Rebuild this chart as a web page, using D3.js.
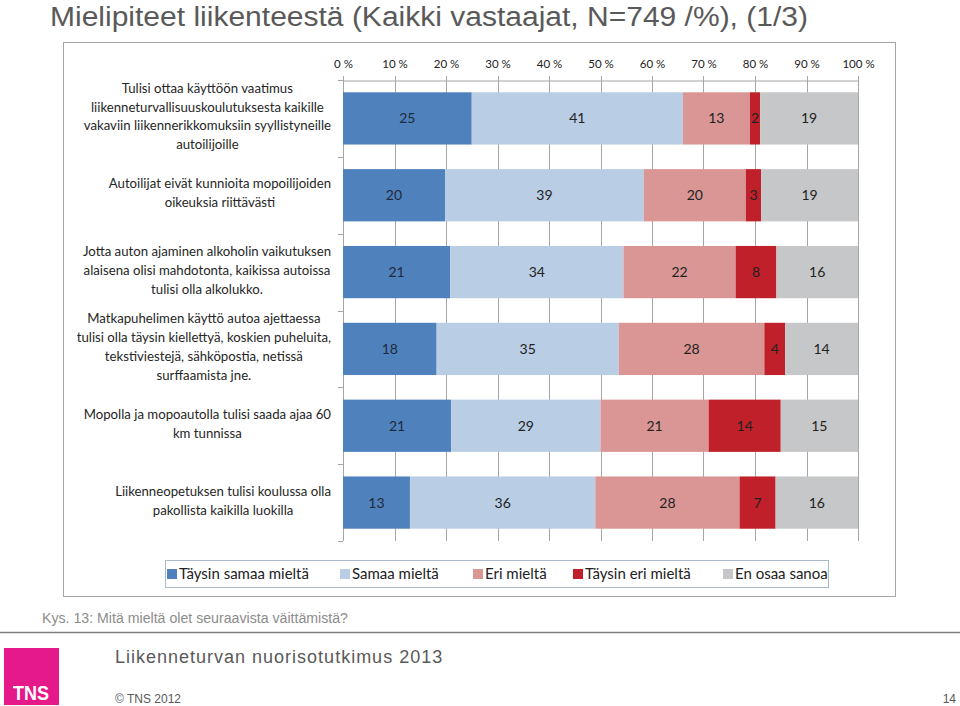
<!DOCTYPE html>
<html>
<head>
<meta charset="utf-8">
<script src="https://cdn.jsdelivr.net/npm/d3@7"></script>
<style>
  body { margin: 0; background: #fff; }
  svg { display: block; }
</style>
</head>
<body>
<div id="chart"></div>
<script>
const statements = [
  ["Tulisi ottaa käyttöön vaatimus", "liikenneturvallisuuskoulutuksesta  kaikille", "vakaviin liikennerikkomuksiin syyllistyneille", "autoilijoille"],
  ["Autoilijat eivät kunnioita mopoilijoiden", "oikeuksia riittävästi"],
  ["Jotta auton ajaminen alkoholin vaikutuksen", "alaisena olisi mahdotonta, kaikissa autoissa", "tulisi olla alkolukko."],
  ["Matkapuhelimen käyttö autoa ajettaessa", "tulisi olla täysin kiellettyä, koskien  puheluita,", "tekstiviestejä, sähköpostia,  netissä", "surffaamista jne."],
  ["Mopolla ja mopoautolla tulisi saada ajaa 60", "km tunnissa"],
  ["Liikenneopetuksen tulisi koulussa olla", "pakollista kaikilla luokilla"]
];
const answers = ["Täysin samaa mieltä", "Samaa mieltä", "Eri mieltä", "Täysin eri mieltä", "En osaa sanoa"];
const taysinSamaa = [25, 20, 21, 18, 21, 13];
const samaa = [41, 39, 34, 35, 29, 36];
const eri = [13, 20, 22, 28, 21, 28];
const taysinEri = [2, 3, 8, 4, 14, 7];
const enOsaa = [19, 19, 16, 14, 15, 16];
const tickValues = [0, 0.1, 0.2, 0.3, 0.4, 0.5, 0.6, 0.7, 0.8, 0.9, 1];

const colors = ["#4F81BD", "#B9CDE5", "#D99694", "#C0202A", "#C6C7C9"];
const series = [taysinSamaa, samaa, eri, taysinEri, enOsaa];

const rows = statements.map((s, i) => {
  const r = { id: i, lines: s };
  answers.forEach((a, j) => (r[a] = series[j][i]));
  return r;
});

const W = 960, H = 706;
const svg = d3.select("#chart").append("svg").attr("width", W).attr("height", H);

const labelFont = "Lato, 'Open Sans', sans-serif";
const narrow = "'Liberation Sans Narrow', 'Liberation Sans', Arial, sans-serif";

// title
svg.append("text")
  .attr("x", 50).attr("y", 26)
  .attr("font-family", narrow).attr("font-size", 27).attr("fill", "#595959")
  .attr("textLength", 758).attr("lengthAdjust", "spacingAndGlyphs")
  .text("Mielipiteet liikenteestä (Kaikki vastaajat, N=749 /%), (1/3)");

// chart frame
svg.append("rect")
  .attr("x", 63.5).attr("y", 42.5).attr("width", 832).attr("height", 554)
  .attr("fill", "none").attr("stroke", "#A6A6A6").attr("stroke-width", 1);

const x = d3.scaleLinear().domain([0, 1]).range([343, 858]);
const y = d3.scaleBand().domain(rows.map((d) => d.id)).range([80, 541]).paddingInner(0.32).paddingOuter(0.16);

// gridlines
svg.append("g").selectAll("line").data(tickValues).join("line")
  .attr("x1", (d) => Math.round(x(d)) + 0.5).attr("x2", (d) => Math.round(x(d)) + 0.5)
  .attr("y1", 76).attr("y2", 541)
  .attr("stroke", "#A6A6A6").attr("stroke-width", 1);

// top axis
const xAxis = svg.append("g").attr("transform", "translate(0,80.5)")
  .call(d3.axisTop(x).tickValues(tickValues).tickSize(0).tickPadding(13)
    .tickFormat((d) => Math.round(d * 100) + " %"));
xAxis.select(".domain").attr("stroke", "#A6A6A6");
xAxis.selectAll("text").attr("font-family", labelFont).attr("font-size", 11.5).attr("fill", "#222");

// left axis with band boundary ticks
const bounds = d3.range(rows.length + 1).map((i) => 80 + i * (461 / rows.length));
const yAxis = svg.append("g");
yAxis.append("line").attr("x1", 343.5).attr("x2", 343.5).attr("y1", 80).attr("y2", 541).attr("stroke", "#A6A6A6");
yAxis.selectAll("line.tk").data(bounds).join("line").attr("class", "tk")
  .attr("x1", 338).attr("x2", 343).attr("y1", (d) => Math.round(d) + 0.5).attr("y2", (d) => Math.round(d) + 0.5)
  .attr("stroke", "#A6A6A6");

// stacked bars (100%)
const stack = d3.stack().keys(answers).offset(d3.stackOffsetExpand);
const stacked = stack(rows);

const groups = svg.append("g").selectAll("g").data(stacked).join("g")
  .attr("fill", (d, i) => colors[i]);

groups.selectAll("rect").data((d) => d).join("rect")
  .attr("x", (d) => x(d[0]))
  .attr("width", (d) => x(d[1]) - x(d[0]))
  .attr("y", (d) => y(d.data.id))
  .attr("height", y.bandwidth());

groups.selectAll("text").data((d) => d.map((v) => ({ v, key: d.key }))).join("text")
  .attr("x", (d) => (x(d.v[0]) + x(d.v[1])) / 2)
  .attr("y", (d) => y(d.v.data.id) + y.bandwidth() / 2)
  .attr("dy", "0.36em")
  .attr("text-anchor", "middle")
  .attr("font-family", labelFont).attr("font-size", 14)
  .attr("fill", (d) => (d.key === answers[0] ? "#1F2A3A" : "#222"))
  .text((d) => d.v.data[d.key]);

// category labels
const lineH = 18.8;
rows.forEach((r) => {
  const g = svg.append("g");
  const cy = y(r.id) + y.bandwidth() / 2 - 2;
  const n = r.lines.length;
  const texts = g.selectAll("text").data(r.lines).join("text")
    .attr("font-family", labelFont).attr("font-size", 13.2).attr("fill", "#262626")
    .attr("text-anchor", "middle")
    .attr("y", (d, i) => cy + (i - (n - 1) / 2) * lineH)
    .attr("dy", "0.35em")
    .text((d) => d);
  let maxW = 0;
  texts.each(function () { maxW = Math.max(maxW, this.getComputedTextLength()); });
  texts.attr("x", 331 - maxW / 2);
});

// legend
const legend = svg.append("g");
legend.append("rect").attr("x", 165.5).attr("y", 560.5).attr("width", 663).attr("height", 27)
  .attr("fill", "none").attr("stroke", "#A9B9CC");
const legX = [167, 340, 473, 573, 723];
answers.forEach((a, i) => {
  legend.append("rect").attr("x", legX[i]).attr("y", 569).attr("width", 10).attr("height", 10).attr("fill", colors[i]);
  legend.append("text").attr("x", legX[i] + 12).attr("y", 574).attr("dy", "0.35em")
    .attr("font-family", labelFont).attr("font-size", 15).attr("fill", "#222").text(a);
});

// footer
svg.append("text").attr("x", 42).attr("y", 623)
  .attr("font-family", narrow).attr("font-size", 14).attr("fill", "#8C8C8C")
  .attr("textLength", 306).attr("lengthAdjust", "spacingAndGlyphs")
  .text("Kys. 13: Mitä mieltä olet seuraavista väittämistä?");
svg.append("line").attr("x1", 0).attr("x2", W).attr("y1", 632.5).attr("y2", 632.5)
  .attr("stroke", "#7F7F7F").attr("stroke-width", 1.5);
svg.append("rect").attr("x", 4).attr("y", 648).attr("width", 55).attr("height", 57).attr("fill", "#E6198A");
svg.append("text").attr("x", 31).attr("y", 700).attr("text-anchor", "middle")
  .attr("font-family", narrow).attr("font-size", 21).attr("font-weight", "bold").attr("fill", "#fff")
  .attr("textLength", 36).attr("lengthAdjust", "spacingAndGlyphs")
  .text("TNS");
svg.append("text").attr("x", 115).attr("y", 663)
  .attr("font-family", "'Liberation Sans', Arial, sans-serif").attr("font-size", 18).attr("fill", "#595959")
  .attr("letter-spacing", 1)
  .text("Liikenneturvan nuorisotutkimus 2013");
svg.append("text").attr("x", 115).attr("y", 703)
  .attr("font-family", narrow).attr("font-size", 12).attr("fill", "#595959")
  .text("© TNS 2012");
svg.append("text").attr("x", 956).attr("y", 703).attr("text-anchor", "end")
  .attr("font-family", narrow).attr("font-size", 12).attr("fill", "#595959")
  .text("14");
</script>
</body>
</html>
